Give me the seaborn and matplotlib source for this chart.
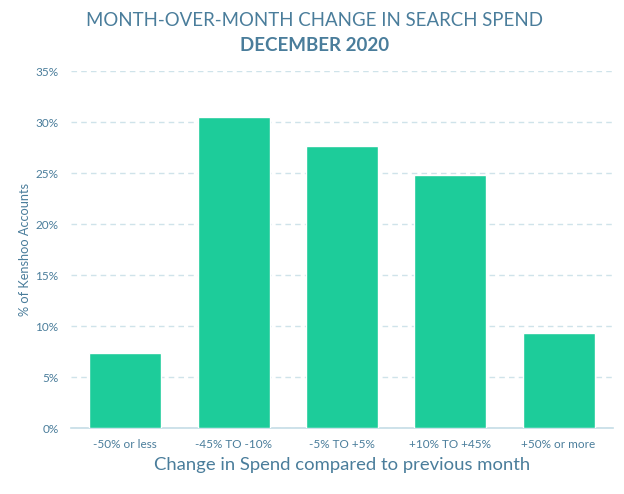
import pandas as pd
import seaborn as sns
import matplotlib.pyplot as plt
from matplotlib.ticker import FuncFormatter

# -------------------- Data --------------------
categories = ['-50% or less', '-45% TO -10%', '-5% TO +5%', '+10% TO +45%', '+50% or more']
share_pct = [7.4, 30.5, 27.7, 24.8, 9.35]
y_ticks = [0, 5, 10, 15, 20, 25, 30, 35]

df = pd.DataFrame({'bucket': categories, 'share': share_pct})

# -------------------- Style --------------------
sns.set_style('white')
plt.rcParams['font.family'] = ['Lato', 'DejaVu Sans']

text_col = '#4a7d9b'
bar_col = '#1dcc9a'
grid_col = '#cfe3ea'

fig = plt.figure(figsize=(6.24, 4.94), dpi=100)
ax = fig.add_axes([0.114, 0.133, 0.868, 0.723])

sns.barplot(data=df, x='bucket', y='share', color=bar_col, saturation=1,
            width=0.665, ax=ax, zorder=3)

ax.set_ylim(0, 35)
ax.set_xlim(-0.5, 4.5)
ax.set_yticks(y_ticks)
ax.yaxis.set_major_formatter(FuncFormatter(lambda v, p: f'{v:.0f}%'))
ax.grid(axis='y', color=grid_col, linestyle=(0, (4, 3)), linewidth=1, zorder=0)
ax.grid(axis='x', visible=False)

for s in ['top', 'right', 'left']:
    ax.spines[s].set_visible(False)
ax.spines['bottom'].set_color('#c5dde6')
ax.spines['bottom'].set_linewidth(1.2)

ax.tick_params(axis='both', length=0, colors=text_col, labelsize=8.5)
ax.tick_params(axis='x', pad=8)
ax.tick_params(axis='y', pad=9)

ax.set_xlabel('Change in Spend compared to previous month', fontsize=13.3,
              color=text_col, labelpad=5)
ax.set_ylabel('% of Kenshoo Accounts', fontsize=9.2, color=text_col, labelpad=3)

# -------------------- Title --------------------
fig.text(0.504, 0.958, 'MONTH-OVER-MONTH CHANGE IN SEARCH SPEND', ha='center', va='center',
         fontsize=13.4, color=text_col, fontweight='normal')
fig.text(0.504, 0.907, 'DECEMBER 2020', ha='center', va='center',
         fontsize=13.5, color=text_col, fontweight='bold')

fig.savefig('out.png', dpi=100)
